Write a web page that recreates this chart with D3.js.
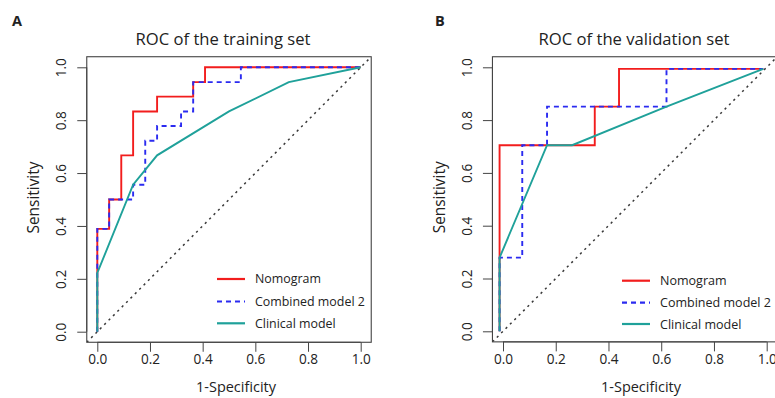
<!DOCTYPE html>
<html>
<head>
<meta charset="utf-8">
<script src="https://cdn.jsdelivr.net/npm/d3@7"></script>
<style>
  html, body { margin: 0; padding: 0; background: #fff; }
  svg { display: block; }
  text { font-family: "Open Sans", "Noto Sans", sans-serif; fill: #222; }
</style>
</head>
<body>
<svg id="chart" width="775" height="398"></svg>
<script>
// ---- data ----
const tickValues = [0, 0.2, 0.4, 0.6, 0.8, 1.0];
const tickLabels = ["0.0", "0.2", "0.4", "0.6", "0.8", "1.0"];
const seriesNames = ["Nomogram", "Combined model 2", "Clinical model"];

// Training set (A)
const trainNomogramFpr = [0, 0, 0.045, 0.045, 0.091, 0.091, 0.136, 0.136, 0.227, 0.227, 0.364, 0.364, 0.409, 0.409, 1];
const trainNomogramTpr = [0, 0.389, 0.389, 0.5, 0.5, 0.667, 0.667, 0.833, 0.833, 0.889, 0.889, 0.944, 0.944, 1, 1];
const trainCombinedFpr = [0, 0, 0.045, 0.045, 0.136, 0.136, 0.182, 0.182, 0.227, 0.227, 0.318, 0.318, 0.364, 0.364, 0.545, 0.545, 1];
const trainCombinedTpr = [0, 0.389, 0.389, 0.5, 0.5, 0.556, 0.556, 0.722, 0.722, 0.778, 0.778, 0.833, 0.833, 0.944, 0.944, 1, 1];
const trainClinicalFpr = [0, 0, 0.136, 0.227, 0.5, 0.727, 1];
const trainClinicalTpr = [0, 0.222, 0.556, 0.667, 0.833, 0.944, 1];

// Validation set (B)
const validNomogramFpr = [-0.013, -0.013, 0.348, 0.348, 0.44, 0.44, 0.987];
const validNomogramTpr = [0, 0.705, 0.705, 0.851, 0.851, 0.994, 0.994];
const validCombinedFpr = [-0.013, -0.013, 0.073, 0.073, 0.167, 0.167, 0.62, 0.62, 0.987];
const validCombinedTpr = [0, 0.279, 0.279, 0.705, 0.705, 0.851, 0.851, 0.994, 0.994];
const validClinicalFpr = [-0.013, -0.013, 0.167, 0.262, 0.62, 0.987];
const validClinicalTpr = [0, 0.279, 0.705, 0.705, 0.851, 0.994];

// ---- styles ----
const colors = ["#f21d1d", "#2b2bf0", "#1fa19a"];
const dashes = [null, "5,4", null];

const svg = d3.select("#chart");

function zip(xs, ys) { return xs.map((x, i) => [x, ys[i]]); }

// scale font-size so a text element reaches a target width
function fit(sel, target) {
  const node = sel.node();
  const fs = parseFloat(sel.attr("font-size"));
  const w = node.getComputedTextLength();
  if (w > 0) sel.attr("font-size", (fs * target / w).toFixed(2));
  return sel;
}

function drawPanel(cfg) {
  const x = d3.scaleLinear().domain([0, 1]).range(cfg.xr);
  const y = d3.scaleLinear().domain([0, 1]).range(cfg.yr);
  const g = svg.append("g");
  const x0 = x(-0.04), x1 = x(1.04), y0 = y(-0.04), y1 = y(1.04);

  const clipId = "clip" + cfg.id;
  svg.append("clipPath").attr("id", clipId)
    .append("rect").attr("x", x0).attr("y", y1).attr("width", x1 - x0).attr("height", y0 - y1);

  const tickFs = 13.6;
  // axes
  const xAxis = d3.axisBottom(x).tickValues(tickValues).tickFormat((d, i) => tickLabels[i]).tickSize(9.5).tickPadding(4);
  const gx = g.append("g").attr("transform", `translate(0,${y0})`).call(xAxis);
  gx.select(".domain").attr("d", `M${x(0)},0H${x(1)}`).attr("stroke", "#444");
  gx.selectAll(".tick line").attr("stroke", "#444");
  gx.selectAll(".tick text").attr("font-size", tickFs).attr("fill", "#222")
    .attr("font-family", '"Open Sans", sans-serif').attr("dy", "0.71em").attr("y", 12.5);

  const yAxis = d3.axisLeft(y).tickValues(tickValues).tickFormat((d, i) => tickLabels[i]).tickSize(9.5);
  const gy = g.append("g").attr("transform", `translate(${x0},0)`).call(yAxis);
  gy.select(".domain").attr("d", `M0,${y(0)}V${y(1)}`).attr("stroke", "#444");
  gy.selectAll(".tick line").attr("stroke", "#444");
  gy.selectAll(".tick text").remove();
  gy.selectAll(".tick").append("text")
    .attr("transform", "translate(-20.5,0) rotate(-90)")
    .attr("text-anchor", "middle")
    .attr("font-size", tickFs)
    .attr("fill", "#222")
    .attr("font-family", '"Open Sans", sans-serif')
    .text((d, i) => tickLabels[i]);

  // box
  g.append("rect").attr("x", x0).attr("y", y1).attr("width", x1 - x0).attr("height", y0 - y1)
    .attr("fill", "none").attr("stroke", "#444").attr("stroke-width", 1.1);

  // diagonal
  g.append("line").attr("clip-path", `url(#${clipId})`)
    .attr("x1", x(-0.04)).attr("y1", y(-0.04)).attr("x2", x(1.04)).attr("y2", y(1.04))
    .attr("stroke", "#3a3a3a").attr("stroke-width", 1.5).attr("stroke-dasharray", "2.2,4");

  // curves
  const line = d3.line().x(d => x(d[0])).y(d => y(d[1]));
  cfg.series.forEach((s, i) => {
    g.append("path").datum(s).attr("d", line)
      .attr("fill", "none").attr("stroke", colors[i]).attr("stroke-width", 1.9)
      .attr("stroke-dasharray", dashes[i]).attr("stroke-linejoin", "miter").attr("stroke-linecap", "butt");
  });

  // legend
  const lg = g.append("g");
  const legTexts = [];
  seriesNames.forEach((name, i) => {
    const ly = cfg.legY[i];
    lg.append("line").attr("x1", cfg.legX).attr("x2", cfg.legX + 28).attr("y1", ly).attr("y2", ly)
      .attr("stroke", colors[i]).attr("stroke-width", 2.2).attr("stroke-dasharray", dashes[i]);
    legTexts.push(lg.append("text").attr("x", cfg.legX + 38).attr("y", ly).attr("dy", "0.36em")
      .attr("font-size", 13).text(name));
  });
  // size legend so the longest entry spans the measured width
  const w1 = legTexts[1].node().getComputedTextLength();
  const legFs = 13 * cfg.legW / w1;
  legTexts.forEach(t => t.attr("font-size", legFs.toFixed(2)));

  // title & labels
  fit(g.append("text").attr("x", cfg.titleX).attr("y", 44.5).attr("text-anchor", "middle")
    .attr("font-size", 17).text(cfg.title), cfg.titleW);
  fit(g.append("text").attr("x", cfg.xLabX).attr("y", 392).attr("text-anchor", "middle")
    .attr("font-size", 15).text("1-Specificity"), 80);
  fit(g.append("text").attr("transform", `translate(${x0 - 47.5},${(y0 + y1) / 2 - 2}) rotate(-90)`)
    .attr("text-anchor", "middle").attr("font-size", 15).text("Sensitivity"), 72);
  g.append("text").attr("x", cfg.letterX).attr("y", 25.5).attr("font-size", 14.5).attr("font-weight", "bold")
    .attr("font-family", '"Liberation Sans", Arial, sans-serif').text(cfg.letter);
}

drawPanel({
  id: "A", letter: "A", letterX: 12,
  title: "ROC of the training set", titleX: 223, titleW: 175, xLabX: 236,
  xr: [97.3, 360.7], yr: [331.7, 67.3],
  legX: 217, legY: [279, 301.5, 323.3], legW: 110,
  series: [zip(trainNomogramFpr, trainNomogramTpr), zip(trainCombinedFpr, trainCombinedTpr), zip(trainClinicalFpr, trainClinicalTpr)]
});

drawPanel({
  id: "B", letter: "B", letterX: 435,
  title: "ROC of the validation set", titleX: 634, titleW: 191, xLabX: 641,
  xr: [503, 766.7], yr: [331.3, 67.3],
  legX: 622, legY: [280.7, 302.7, 324], legW: 111,
  series: [zip(validNomogramFpr, validNomogramTpr), zip(validCombinedFpr, validCombinedTpr), zip(validClinicalFpr, validClinicalTpr)]
});
</script>
</body>
</html>
